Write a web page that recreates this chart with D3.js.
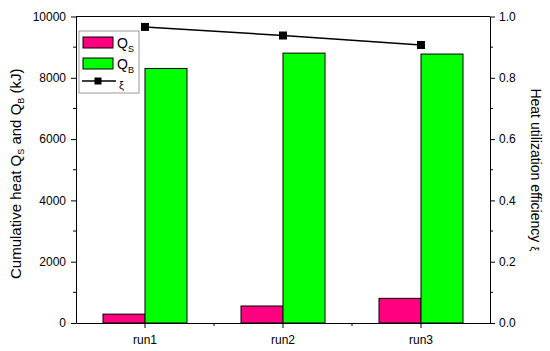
<!DOCTYPE html>
<html>
<head>
<meta charset="utf-8">
<script src="https://cdn.jsdelivr.net/npm/d3@7"></script>
<style>
  body { margin: 0; background: #fff; }
  svg text { font-family: "Liberation Sans", Arial, sans-serif; fill: #000; }
  .axis path, .axis line { stroke: #000; }
</style>
</head>
<body>
<div id="chart"></div>
<script>
// DATA
var runs = ["run1", "run2", "run3"];
var heatS = [290, 555, 805];
var heatB = [8305, 8805, 8775];
var efficiency = [0.966, 0.938, 0.907];
var leftTicks = [0, 2000, 4000, 6000, 8000, 10000];
var rightTicks = [0, 0.2, 0.4, 0.6, 0.8, 1.0];

(function () {
  var width = 550, height = 351,
    margin = { top: 16.5, right: 60, bottom: 28, left: 76 };
  var w = width - margin.left - margin.right,
    h = height - margin.top - margin.bottom;

  var svg = d3.select("#chart").append("svg")
    .attr("width", width)
    .attr("height", height);

  var g = svg.append("g")
    .attr("transform", "translate(" + margin.left + "," + margin.top + ")");

  var x = d3.scaleBand().domain(runs).range([0, w]);
  var xs = d3.scaleBand().domain(["S", "B"]).range([x.bandwidth() / 2 - 42, x.bandwidth() / 2 + 42]);
  var y = d3.scaleLinear().domain([0, 10000]).range([h, 0]);
  var y2 = d3.scaleLinear().domain([0, 1]).range([h, 0]);

  // BARS
  var groups = g.selectAll(".run")
    .data(runs)
    .enter().append("g")
    .attr("transform", function (d) { return "translate(" + x(d) + ",0)"; });

  groups.append("rect")
    .attr("x", xs("S"))
    .attr("y", function (d, i) { return y(heatS[i]); })
    .attr("width", xs.bandwidth())
    .attr("height", function (d, i) { return h - y(heatS[i]); })
    .attr("fill", "#ff0080")
    .attr("stroke", "#000")
    .attr("stroke-width", 1);

  groups.append("rect")
    .attr("x", xs("B"))
    .attr("y", function (d, i) { return y(heatB[i]); })
    .attr("width", xs.bandwidth())
    .attr("height", function (d, i) { return h - y(heatB[i]); })
    .attr("fill", "#00ff00")
    .attr("stroke", "#000")
    .attr("stroke-width", 1);

  // LINE
  var line = d3.line()
    .x(function (d, i) { return x(runs[i]) + x.bandwidth() / 2; })
    .y(function (d) { return y2(d); });

  g.append("path")
    .datum(efficiency)
    .attr("d", line)
    .attr("fill", "none")
    .attr("stroke", "#000")
    .attr("stroke-width", 1.5);

  g.selectAll(".pt")
    .data(efficiency)
    .enter().append("rect")
    .attr("x", function (d, i) { return x(runs[i]) + x.bandwidth() / 2 - 4; })
    .attr("y", function (d) { return y2(d) - 4; })
    .attr("width", 8)
    .attr("height", 8)
    .attr("fill", "#000");

  // AXES
  var xAxis = g.append("g")
    .attr("class", "axis")
    .attr("transform", "translate(0," + h + ")")
    .call(d3.axisBottom(x).tickSizeInner(5).tickSizeOuter(0).tickPadding(7));
  xAxis.selectAll("text").style("font-size", "12px");
  // minor ticks at band boundaries
  xAxis.selectAll(".minor")
    .data(runs.slice(1))
    .enter().append("line")
    .attr("x1", function (d) { return x(d); })
    .attr("x2", function (d) { return x(d); })
    .attr("y1", 0).attr("y2", 3)
    .attr("stroke", "#000");

  var yAxis = g.append("g")
    .attr("class", "axis")
    .call(d3.axisLeft(y).tickValues(leftTicks).tickFormat(d3.format("d")).tickSizeInner(5).tickSizeOuter(0).tickPadding(5));
  yAxis.selectAll("text").style("font-size", "12px");
  yAxis.selectAll(".minor")
    .data(d3.range(1000, 10000, 2000))
    .enter().append("line")
    .attr("x1", 0).attr("x2", -3)
    .attr("y1", function (d) { return y(d); })
    .attr("y2", function (d) { return y(d); })
    .attr("stroke", "#000");

  var y2Axis = g.append("g")
    .attr("class", "axis")
    .attr("transform", "translate(" + w + ",0)")
    .call(d3.axisRight(y2).tickValues(rightTicks).tickFormat(d3.format(".1f")).tickSizeInner(5).tickSizeOuter(0).tickPadding(4));
  y2Axis.selectAll("text").style("font-size", "12px");
  y2Axis.selectAll(".minor")
    .data([0.1, 0.3, 0.5, 0.7, 0.9])
    .enter().append("line")
    .attr("x1", 0).attr("x2", 3)
    .attr("y1", function (d) { return y2(d); })
    .attr("y2", function (d) { return y2(d); })
    .attr("stroke", "#000");

  // top frame
  g.append("line")
    .attr("x1", 0).attr("x2", w)
    .attr("y1", 0).attr("y2", 0)
    .attr("stroke", "#000");

  // AXIS TITLES
  var lt = svg.append("text")
    .attr("transform", "translate(21," + (margin.top + h / 2 + 4) + ") rotate(-90)")
    .attr("text-anchor", "middle")
    .style("font-size", "15px");
  lt.append("tspan").text("Cumulative heat Q");
  lt.append("tspan").attr("dy", 3).style("font-size", "9px").text("S");
  lt.append("tspan").attr("dy", -3).text(" and Q");
  lt.append("tspan").attr("dy", 3).style("font-size", "9px").text("B");
  lt.append("tspan").attr("dy", -3).text(" (kJ)");

  var rt = svg.append("text")
    .attr("transform", "translate(531," + (margin.top + h / 2) + ") rotate(90)")
    .attr("text-anchor", "middle")
    .style("font-size", "14px");
  rt.append("tspan").text("Heat utilization efficiency ");
  rt.append("tspan").style("font-size", "11px").text("\u03be");

  // LEGEND
  var lg = g.append("g").attr("transform", "translate(3,14.5)");
  lg.append("rect")
    .attr("width", 60).attr("height", 62)
    .attr("fill", "#fff").attr("stroke", "#999");
  lg.append("rect").attr("x", 4).attr("y", 6).attr("width", 30).attr("height", 11)
    .attr("fill", "#ff0080").attr("stroke", "#000");
  lg.append("rect").attr("x", 4).attr("y", 27).attr("width", 30).attr("height", 11)
    .attr("fill", "#00ff00").attr("stroke", "#000");
  lg.append("line").attr("x1", 3).attr("x2", 37).attr("y1", 50).attr("y2", 50)
    .attr("stroke", "#000").attr("stroke-width", 1.5);
  lg.append("rect").attr("x", 15.5).attr("y", 46.5).attr("width", 7).attr("height", 7).attr("fill", "#000");

  function sub(yy, main, s) {
    var t = lg.append("text").attr("x", 38).attr("y", yy).style("font-size", "14px");
    t.append("tspan").text(main);
    t.append("tspan").attr("dy", 4).style("font-size", "9px").text(s);
  }
  sub(17, "Q", "S");
  sub(38, "Q", "B");
  lg.append("text").attr("x", 40).attr("y", 58).style("font-size", "11px").text("\u03be");
})();
</script>
</body>
</html>
